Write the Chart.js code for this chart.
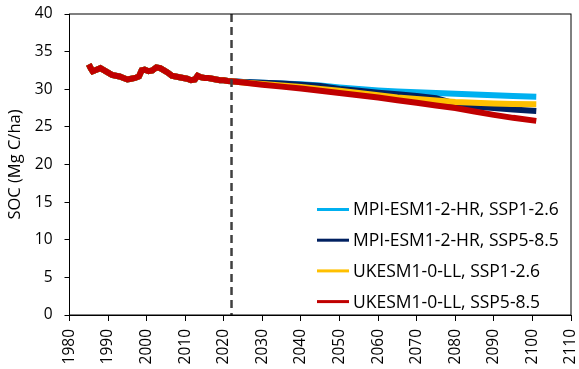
<!DOCTYPE html>
<html>
<head>
<meta charset="utf-8">
<script src="https://cdn.jsdelivr.net/npm/chart.js@4"></script>
<style>
  html, body { margin: 0; padding: 0; background: #fff; }
  #wrap { width: 579px; height: 369px; }
</style>
</head>
<body>
<div id="wrap"><canvas id="myChartSoc" width="579" height="369"></canvas></div>
<script>
// values
const histYears = [1985, 1985.5, 1986, 1987, 1988, 1989, 1990, 1991, 1992, 1993, 1994, 1995, 1996, 1997, 1998, 1998.7, 1999.5, 2000.5, 2001.5, 2002.5, 2003.5, 2004.5, 2005.5, 2006.5, 2007.5, 2008.5, 2009.5, 2010.5, 2011.5, 2012.5, 2013.2, 2014, 2015, 2016, 2017, 2018, 2019, 2020, 2021, 2022]
const histSoc = [33.3, 32.8, 32.4, 32.6, 32.8, 32.5, 32.2, 31.9, 31.8, 31.7, 31.5, 31.3, 31.4, 31.5, 31.7, 32.5, 32.6, 32.4, 32.5, 32.9, 32.8, 32.5, 32.2, 31.8, 31.7, 31.6, 31.5, 31.4, 31.2, 31.3, 31.8, 31.6, 31.5, 31.5, 31.4, 31.3, 31.2, 31.2, 31.1, 31.05]

const futYears = [2025, 2030, 2035, 2040, 2045, 2050, 2055, 2060, 2065, 2070, 2075, 2080, 2085, 2090, 2095, 2101]
const mpi126 = [30.95, 30.85, 30.75, 30.65, 30.5, 30.25, 30.05, 29.85, 29.7, 29.6, 29.5, 29.4, 29.3, 29.2, 29.1, 29.0]
const mpi585 = [30.95, 30.85, 30.75, 30.6, 30.45, 30.05, 29.8, 29.55, 29.35, 29.1, 28.8, 28.1, 27.7, 27.5, 27.3, 27.1]
const uk126 = [30.9, 30.7, 30.5, 30.3, 30.05, 29.8, 29.5, 29.2, 28.9, 28.7, 28.5, 28.3, 28.2, 28.1, 28.05, 28.0]
const uk585 = [30.9, 30.6, 30.35, 30.1, 29.8, 29.5, 29.2, 28.9, 28.55, 28.2, 27.85, 27.5, 27.05, 26.6, 26.2, 25.8]

const labels = ["MPI-ESM1-2-HR, SSP1-2.6", "MPI-ESM1-2-HR, SSP5-8.5", "UKESM1-0-LL, SSP1-2.6", "UKESM1-0-LL, SSP5-8.5"]
const colors = ["#00B0F0", "#002060", "#FFC000", "#C00000"]
const xTicks = [1980, 1990, 2000, 2010, 2020, 2030, 2040, 2050, 2060, 2070, 2080, 2090, 2100, 2110]
const presentYear = 2022

const FONT = "'Open Sans', 'Liberation Sans', sans-serif"

function series(fut) {
  let pts = []
  for (let i = 0; i < histYears.length; i++) pts.push({ x: histYears[i], y: histSoc[i] })
  for (let j = 0; j < futYears.length; j++) pts.push({ x: futYears[j], y: fut[j] })
  return pts
}

const futures = [mpi126, mpi585, uk126, uk585]
let datasets = []
for (let k = 0; k < futures.length; k++) {
  datasets.push({
    label: labels[k],
    data: series(futures[k]),
    borderColor: colors[k],
    backgroundColor: colors[k],
    borderWidth: 6,
    pointRadius: 0,
    tension: 0,
    fill: false,
    order: futures.length - k
  })
}

// dashed line at present, box around the plot and the legend inside
const extras = {
  id: "extras",
  afterDatasetsDraw(chart) {
    const c = chart.ctx
    const a = chart.chartArea
    const px = chart.scales.x.getPixelForValue(presentYear)
    c.save()
    c.strokeStyle = "#404040"
    c.lineWidth = 2.5
    c.setLineDash([8, 5])
    c.beginPath()
    c.moveTo(px, a.top)
    c.lineTo(px, a.bottom)
    c.stroke()
    c.setLineDash([])
    c.strokeStyle = "#000"
    c.lineWidth = 1
    c.strokeRect(a.left, a.top, a.right - a.left, a.bottom - a.top)

    c.font = "17.5px " + FONT
    c.textBaseline = "middle"
    c.fillStyle = "#000"
    for (let i = 0; i < labels.length; i++) {
      const y = 209.5 + i * 30.7
      c.strokeStyle = colors[i]
      c.lineWidth = 3
      c.beginPath()
      c.moveTo(317, y)
      c.lineTo(349, y)
      c.stroke()
      c.fillText(labels[i], 353, y + 1)
    }
    c.restore()
  }
}

new Chart(document.getElementById("myChartSoc"), {
  type: "line",
  data: { datasets: datasets },
  plugins: [extras],
  options: {
    responsive: false,
    animation: false,
    layout: { padding: { top: 14, right: 8, left: 0, bottom: 0 } },
    plugins: {
      legend: { display: false },
      tooltip: { enabled: false }
    },
    scales: {
      x: {
        type: "linear",
        min: 1980,
        max: 2110,
        afterBuildTicks: (s) => { s.ticks = xTicks.map(v => ({ value: v })) },
        afterFit: (s) => { s.height = 54; s.paddingLeft = 0; s.paddingRight = 0 },
        grid: { drawOnChartArea: false, drawTicks: true, tickLength: 6, color: "#000" },
        border: { color: "#000", width: 1 },
        ticks: {
          minRotation: 90,
          maxRotation: 90,
          padding: 8,
          color: "#000",
          font: { family: FONT, size: 15.5 },
          callback: (v) => String(v)
        }
      },
      y: {
        min: 0,
        max: 40,
        afterFit: (s) => { s.width = 69.5; s.paddingTop = 0; s.paddingBottom = 0 },
        grid: { drawOnChartArea: false, drawTicks: true, tickLength: 5, color: "#000" },
        border: { color: "#000", width: 1 },
        ticks: {
          stepSize: 5,
          padding: 12,
          color: "#000",
          font: { family: FONT, size: 15.5 }
        },
        title: {
          display: true,
          text: "SOC (Mg C/ha)",
          color: "#000",
          font: { family: FONT, size: 16.5 },
          padding: { top: 5, bottom: 0 }
        }
      }
    }
  }
})
</script>
</body>
</html>
